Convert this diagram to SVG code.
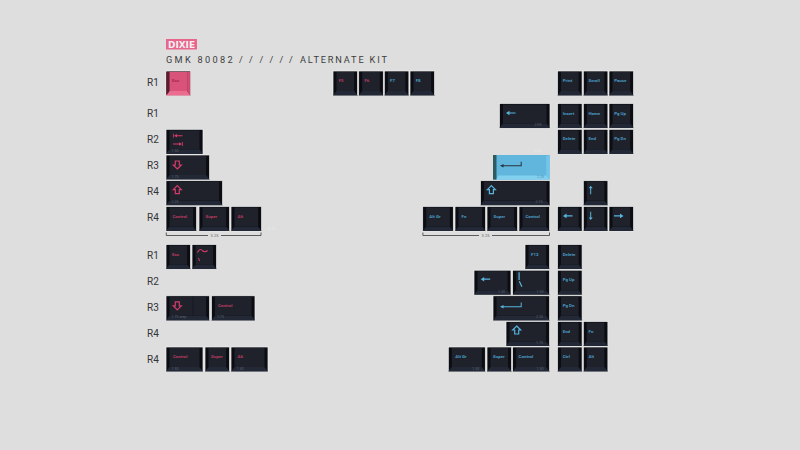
<svg xmlns="http://www.w3.org/2000/svg" width="800" height="450" viewBox="0 0 800 450">
<style>
text{font-family:"Roboto","Liberation Sans",sans-serif}
.o{fill:#0b0d12;stroke:#f0f0f0;stroke-width:.7}
.l{fill:#222835}
.t{fill:#1f222b}
.p{font-size:4.4px;font-weight:700;fill:#b93a60}
.b{font-size:4.4px;font-weight:700;fill:#4a9cc4}
.s{font-size:3.6px;fill:#5f6573}
.r{font-size:10px;fill:#333}
.ip{fill:none;stroke:#d43b69;stroke-width:1.2}
.ib{fill:none;stroke:#58b4de;stroke-width:1.2}
.fp{fill:#d43b69}
.fb{fill:#58b4de}
.br{fill:none;stroke:#3a3a3a;stroke-width:.8}
.bt{font-size:4px;fill:#666;text-anchor:middle}
.f{font-size:4px;fill:#e9e9e9}
.h{font-size:9.2px;fill:#3c3c3c}
</style>
<defs>
<g id="w25"><rect class="o" width="24.6" height="24.6"/><path class="l" d="M0 24.6L3.5 20H21.1L24.6 24.6Z"/><rect class="t" x="3.5" y="1" width="17.6" height="19"/></g>
<g id="w31"><rect class="o" width="30.6" height="24.6"/><path class="l" d="M0 24.6L3.5 20H27.1L30.6 24.6Z"/><rect class="t" x="3.5" y="1" width="23.6" height="19"/></g>
<g id="w37"><rect class="o" width="37" height="24.6"/><path class="l" d="M0 24.6L3.5 20H33.5L37 24.6Z"/><rect class="t" x="3.5" y="1" width="30" height="19"/></g>
<g id="w44"><rect class="o" width="43.6" height="24.6"/><path class="l" d="M0 24.6L3.5 20H40.1L43.6 24.6Z"/><rect class="t" x="3.5" y="1" width="36.6" height="19"/></g>
<g id="w51"><rect class="o" width="50.6" height="24.6"/><path class="l" d="M0 24.6L3.5 20H47.1L50.6 24.6Z"/><rect class="t" x="3.5" y="1" width="43.6" height="19"/></g>
<g id="w57"><rect class="o" width="56.6" height="24.6"/><path class="l" d="M0 24.6L3.5 20H53.1L56.6 24.6Z"/><rect class="t" x="3.5" y="1" width="49.6" height="19"/></g>
<g id="w70"><rect class="o" width="69.6" height="24.6"/><path class="l" d="M0 24.6L3.5 20H66.1L69.6 24.6Z"/><rect class="t" x="3.5" y="1" width="62.6" height="19"/></g>
<path id="la" d="M0 0L3.5 -2.3V-.6H9.5V.6H3.5V2.3Z"/>
<path id="sh" d="M0 -4.5L4 -.5H2V3.5H-2V-.5H-4Z"/>
<path id="sd" d="M0 4.5L4 .5H2V-3.5H-2V.5H-4Z"/>
</defs>
<rect width="800" height="450" fill="#dedede"/>
<g id="title">
<rect x="166" y="39" width="31" height="10.5" fill="#e8668c"/>
<text x="168" y="48" font-size="9.5" font-weight="700" fill="#f6eef1" textLength="27" lengthAdjust="spacingAndGlyphs" style="font-family:'DejaVu Sans',sans-serif">DIXIE</text>
<text class="h" x="166" y="62.8" letter-spacing="2.3">GMK 80082</text>
<text class="h" x="239" y="62.8">/</text><text class="h" x="249" y="62.8">/</text><text class="h" x="259.5" y="62.8">/</text><text class="h" x="269.5" y="62.8">/</text><text class="h" x="279.5" y="62.8">/</text><text class="h" x="289" y="62.8">/</text>
<text class="h" x="300" y="62.8" letter-spacing="1.85">ALTERNATE KIT</text>
</g>
<g id="row-labels">
<text class="r" x="147" y="86">R1</text><text class="r" x="147" y="117">R1</text><text class="r" x="147" y="143">R2</text><text class="r" x="147" y="169">R3</text><text class="r" x="147" y="195">R4</text><text class="r" x="147" y="221">R4</text>
<text class="r" x="147" y="259">R1</text><text class="r" x="147" y="285">R2</text><text class="r" x="147" y="311">R3</text><text class="r" x="147" y="337">R4</text><text class="r" x="147" y="363">R4</text>
</g>
<g id="connectors">
<path class="br" d="M166.3 232.5V235.5H208M221 235.5H261V232.5"/>
<text class="bt" x="214.5" y="236.8">3.25</text>
<path class="br" d="M422.9 232.5V235.5H479M492 235.5H549.5V232.5"/>
<text class="bt" x="485.5" y="236.8">3.25</text>
<text class="f" x="268" y="229.5">6.25</text>
<text class="f" x="534" y="152">2.00</text>
</g>
<g id="key-esc-a" transform="translate(166,71)"><rect width="24.6" height="24.6" fill="#3a1822" stroke="#f0f0f0" stroke-width=".7"/><path fill="#ec6c90" d="M0 24.6L3.5 20H21.1L24.6 24.6Z"/><path fill="#5c1c30" d="M.4 1L3.5 1V20L.4 24Z"/><path fill="#cf4b70" d="M24.2 1H21.1V20L24.2 24Z"/><rect x="3.5" y="1" width="17.6" height="19" fill="#d9527a"/><text x="6" y="11.2" font-size="4.4" font-weight="700" fill="#a5284c">Esc</text></g>
<g id="key-f5" transform="translate(333,71)"><use href="#w25"/><text class="p" x="5.7" y="11.2">F5</text></g>
<g id="key-f6" transform="translate(358.7,71)"><use href="#w25"/><text class="p" x="5.7" y="11.2">F6</text></g>
<g id="key-f7" transform="translate(384.3,71)"><use href="#w25"/><text class="b" x="5.7" y="11.2">F7</text></g>
<g id="key-f8" transform="translate(410,71)"><use href="#w25"/><text class="b" x="5.7" y="11.2">F8</text></g>
<g id="key-print" transform="translate(557.5,71)"><use href="#w25"/><text class="b" x="5.2" y="11.2">Print</text></g>
<g id="key-scroll" transform="translate(583.3,71)"><use href="#w25"/><text class="b" x="5.2" y="11.2">Scroll</text></g>
<g id="key-pause" transform="translate(609,71)"><use href="#w25"/><text class="b" x="5.2" y="11.2">Pause</text></g>
<g id="key-insert" transform="translate(557.5,103.5)"><use href="#w25"/><text class="b" x="5.2" y="11.2">Insert</text></g>
<g id="key-home" transform="translate(583.3,103.5)"><use href="#w25"/><text class="b" x="5.2" y="11.2">Home</text></g>
<g id="key-pgup" transform="translate(609,103.5)"><use href="#w25"/><text class="b" x="5.2" y="11.2">Pg Up</text></g>
<g id="key-delete" transform="translate(557.5,129.3)"><use href="#w25"/><text class="b" x="5.2" y="11.2">Delete</text></g>
<g id="key-end" transform="translate(583.3,129.3)"><use href="#w25"/><text class="b" x="5.2" y="11.2">End</text></g>
<g id="key-pgdn" transform="translate(609,129.3)"><use href="#w25"/><text class="b" x="5.2" y="11.2">Pg Dn</text></g>
<g id="key-back" transform="translate(499.4,103.5)"><use href="#w51"/><use href="#la" class="fb" x="6.6" y="9.5"/><text class="s" x="35" y="22.7">2.00</text></g>
<g id="key-tab" transform="translate(166,129.3)"><use href="#w37"/><path class="fp" d="M7 4.4V8.4H7.8V4.4ZM8 6.4L11 4.6V5.9H16.5V6.9H11V8.2ZM7 14.2H13V12.9L16 14.7L13 16.5V15.2H7ZM16 12.7V16.7H16.8V12.7Z"/><text class="s" x="5.5" y="22.7">1.50</text></g>
<g id="key-caps" transform="translate(166,155)"><use href="#w44"/><use href="#sd" class="ip" x="11.3" y="9.5"/><text class="s" x="5.5" y="22.7">1.75</text></g>
<g id="key-lshift" transform="translate(166,180.7)"><use href="#w57"/><use href="#sh" class="ip" x="11.3" y="9.5"/><text class="s" x="5.5" y="22.7">2.25</text></g>
<g id="key-lctrl" transform="translate(166,206.4)"><use href="#w31"/><text class="p" x="6.5" y="11.2">Control</text></g>
<g id="key-lsuper" transform="translate(199,206.4)"><use href="#w31"/><text class="p" x="6.5" y="11.2">Super</text></g>
<g id="key-lalt" transform="translate(231,206.4)"><use href="#w31"/><text class="p" x="6.5" y="11.2">Alt</text></g>
<g id="key-enter" transform="translate(493,155)"><rect width="56.6" height="24.6" fill="#61b6dd"/><path fill="#2f5c60" d="M0 0H3.5V24.6H0Z"/><path fill="#82d0f0" d="M3.5 24.6L5 20.5H53.1L56.6 24.6Z"/><path fill="#72c4e8" d="M56.6 0L53.1 1V20.5L56.6 24.6Z"/><path d="M7 10.7L10.5 9V10.2H27.7V6.7H28.7V11.2H10.5V12.4Z" fill="#27333e"/><text x="44" y="23" font-size="3.6" fill="#4d8aa8">2.25</text></g>
<g id="key-rshift" transform="translate(480.4,180.7)"><use href="#w70"/><use href="#sh" class="ib" x="11" y="9.5"/><text class="s" x="55" y="22.7">2.75</text></g>
<g id="key-up" transform="translate(583.3,180.7)"><use href="#w25"/><path class="fb" d="M6.9 13.5V7.5H5.4L7.4 5L9.4 7.5H7.9V13.5Z"/></g>
<g id="key-altgr" transform="translate(422.7,206.4)"><use href="#w31"/><text class="b" x="6.5" y="11.2">Alt Gr</text></g>
<g id="key-fn" transform="translate(455,206.4)"><use href="#w31"/><text class="b" x="6.5" y="11.2">Fn</text></g>
<g id="key-rsuper" transform="translate(487,206.4)"><use href="#w31"/><text class="b" x="6.5" y="11.2">Super</text></g>
<g id="key-rctrl" transform="translate(519,206.4)"><use href="#w31"/><text class="b" x="6.5" y="11.2">Control</text></g>
<g id="key-left" transform="translate(557.5,206.4)"><use href="#w25"/><use href="#la" class="fb" x="5.5" y="9.5"/></g>
<g id="key-down" transform="translate(583.3,206.4)"><use href="#w25"/><path class="fb" d="M6.9 5.3V11.2H5.4L7.4 13.7L9.4 11.2H7.9V5.3Z"/></g>
<g id="key-right" transform="translate(609,206.4)"><use href="#w25"/><use href="#la" class="fb" transform="translate(14.5,9.5) scale(-1,1)"/></g>
<g id="key-esc-b" transform="translate(166,244.5)"><use href="#w25"/><text class="p" x="6" y="11.2">Esc</text></g>
<g id="key-tilde" transform="translate(192,244.5)"><use href="#w25"/><path class="ip" d="M5.5 8C7.5 4 9 4.5 11 6.5C13 8 14 7.5 15.5 6" stroke-width="1"/><path class="fp" d="M6 13.5H7L8 16.5H7Z"/></g>
<g id="key-caps-step" transform="translate(166,295.8)"><use href="#w44"/><path d="M27 1V20" stroke="#14171e" stroke-width=".8"/><use href="#sd" class="ip" x="11.3" y="9.5"/><text class="s" x="5.5" y="22.7">1.75 step</text></g>
<g id="key-ctrl-175" transform="translate(211.4,295.8)"><use href="#w44"/><text class="p" x="6.5" y="11.2">Control</text><text class="s" x="5.5" y="22.7">1.75</text></g>
<g id="key-ctrl-150" transform="translate(166,347)"><use href="#w37"/><text class="p" x="7" y="11.2">Control</text><text class="s" x="5.5" y="22.7">1.50</text></g>
<g id="key-super-b" transform="translate(205,347)"><use href="#w25"/><text class="p" x="6" y="11.2">Super</text></g>
<g id="key-alt-150" transform="translate(231,347)"><use href="#w37"/><text class="p" x="6.5" y="11.2">Alt</text><text class="s" x="5.5" y="22.7">1.50</text></g>
<g id="key-f12" transform="translate(525,244.5)"><use href="#w25"/><text class="b" x="6" y="11.2">F12</text></g>
<g id="key-delete-b" transform="translate(557.5,244.5)"><use href="#w25"/><text class="b" x="5.2" y="11.2">Delete</text></g>
<g id="key-back-b" transform="translate(474,270.2)"><use href="#w37"/><use href="#la" class="fb" x="6.7" y="9"/><text class="s" x="24" y="22.7">1.50</text></g>
<g id="key-bslash" transform="translate(512.6,270.2)"><use href="#w37"/><path class="ib" d="M6.5 2V9.8M6.7 11L9.3 16.5" stroke-width="1"/><text class="s" x="24" y="22.7">1.50</text></g>
<g id="key-pgup-b" transform="translate(557.5,270.2)"><use href="#w25"/><text class="b" x="5.2" y="11.2">Pg Up</text></g>
<g id="key-enter-b" transform="translate(493,295.8)"><use href="#w57"/><path class="fb" d="M7 11L10.5 9.3V10.5H27.7V6.7H28.7V11.5H10.5V12.7Z"/><text class="s" x="43" y="22.7">2.25</text></g>
<g id="key-pgdn-b" transform="translate(557.5,295.8)"><use href="#w25"/><text class="b" x="5.2" y="11.2">Pg Dn</text></g>
<g id="key-shift-b" transform="translate(506,321.5)"><use href="#w44"/><use href="#sh" class="ib" x="10.7" y="9"/><text class="s" x="30" y="22.7">1.75</text></g>
<g id="key-end-b" transform="translate(557.5,321.5)"><use href="#w25"/><text class="b" x="5.2" y="11.2">End</text></g>
<g id="key-fn-b" transform="translate(583.3,321.5)"><use href="#w25"/><text class="b" x="5.2" y="11.2">Fn</text></g>
<g id="key-altgr-b" transform="translate(448.3,347)"><use href="#w37"/><text class="b" x="7" y="11.2">Alt Gr</text><text class="s" x="24" y="22.7">1.50</text></g>
<g id="key-super-c" transform="translate(487,347)"><use href="#w25"/><text class="b" x="6" y="11.2">Super</text></g>
<g id="key-ctrl-c" transform="translate(512.6,347)"><use href="#w37"/><text class="b" x="6" y="11.2">Control</text><text class="s" x="24" y="22.7">1.50</text></g>
<g id="key-ctrl-d" transform="translate(557.5,347)"><use href="#w25"/><text class="b" x="5.2" y="11.2">Ctrl</text></g>
<g id="key-alt-d" transform="translate(583.3,347)"><use href="#w25"/><text class="b" x="5.2" y="11.2">Alt</text></g>
</svg>
